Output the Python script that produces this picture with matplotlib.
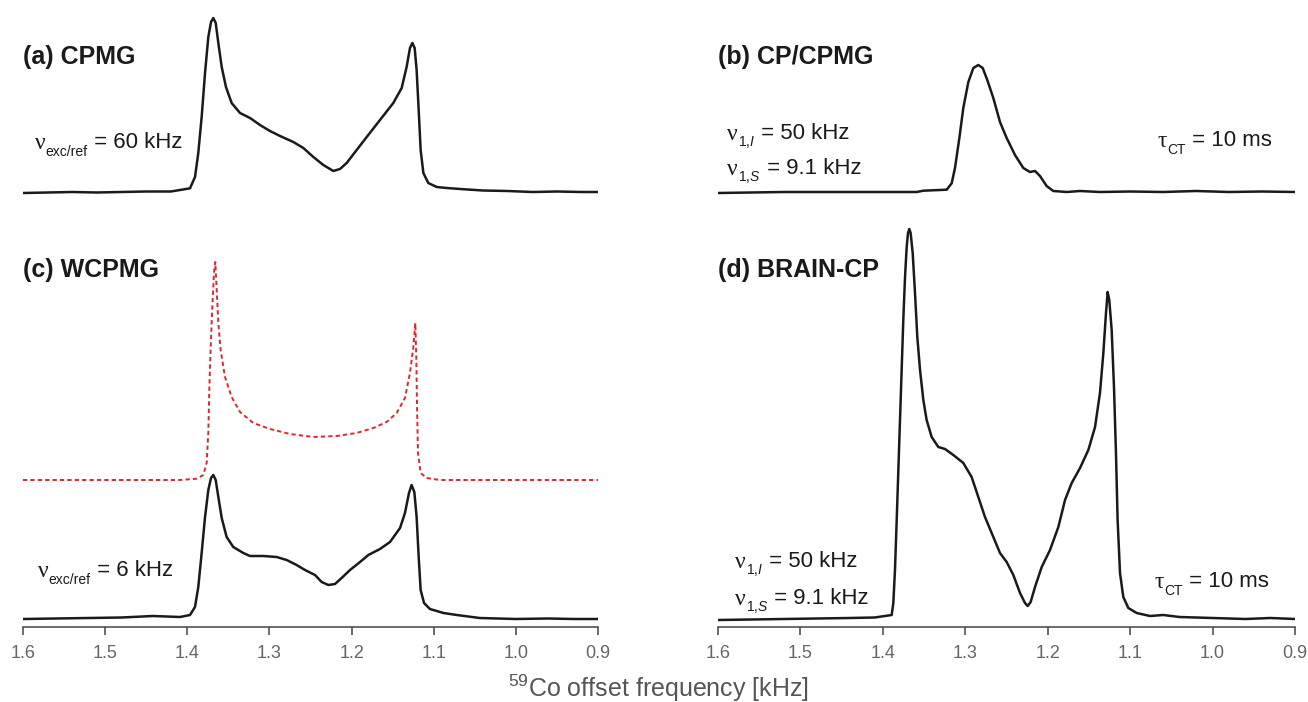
import numpy as np
import matplotlib
matplotlib.use("Agg")
import matplotlib.pyplot as plt

plt.rcParams['font.family'] = ['Liberation Sans', 'DejaVu Sans']
plt.rcParams['mathtext.fontset'] = 'custom'
plt.rcParams['mathtext.rm'] = 'Liberation Sans'
plt.rcParams['mathtext.it'] = 'Liberation Sans:italic'
plt.rcParams['mathtext.default'] = 'regular'

# (a) CPMG, nu_exc/ref = 60 kHz
fa = [1.600, 1.570, 1.540, 1.510, 1.480, 1.450, 1.420, 1.4089, 1.3967, 1.3906, 1.3866, 1.3825,
      1.3784, 1.3744, 1.3711, 1.3683, 1.3654, 1.3622, 1.3581, 1.3529, 1.3460, 1.3358, 1.3236,
      1.3115, 1.2993, 1.2871, 1.2709, 1.2587, 1.2465, 1.2344, 1.2222, 1.2141, 1.2060, 1.1938,
      1.1816, 1.1654, 1.1492, 1.1390, 1.1330, 1.1289, 1.1260, 1.1232, 1.1208, 1.1183, 1.1159,
      1.1126, 1.1066, 1.0964, 1.0842, 1.0680, 1.040, 1.010, 0.980, 0.950, 0.920, 0.900]
ia = [-1, -0.5, 0, -0.5, 0, 0.5, 0.5, 2, 3.7, 15, 39, 75,
      119, 155, 170, 174, 169, 149, 125, 105, 89, 79, 74,
      67, 61, 56, 50, 44, 35, 27, 21, 23, 29, 42,
      55, 72, 89, 104, 125, 144, 149, 144, 122, 82, 42,
      19, 9, 5, 4, 3, 1.5, 1, 0, 0.5, 0, 0]

# (b) CP/CPMG
fb = [1.600, 1.560, 1.520, 1.480, 1.440, 1.400, 1.3792, 1.3590, 1.3509, 1.3226, 1.3165, 1.3125,
      1.3072, 1.3024, 1.2963, 1.2902, 1.2842, 1.2789, 1.2733, 1.2660, 1.2579, 1.2498, 1.2397,
      1.2296, 1.2215, 1.2154, 1.2094, 1.2013, 1.1932, 1.1770, 1.1608, 1.1366, 1.100, 1.060,
      1.020, 0.980, 0.940, 0.900]
ib = [-1, -0.5, 0, 0, 0, 0, 0, 0, 1.3, 2.3, 8.7, 24,
      54, 84, 110, 124, 127, 124, 112, 94, 70, 54, 37,
      24, 20, 21, 16, 6, 1, 0, 1, 0, 0.5, 0,
      1, 0, 0.5, 0]

# (c) WCPMG, nu_exc/ref = 6 kHz (experiment)
fc = [1.600, 1.560, 1.520, 1.480, 1.442, 1.4089, 1.3967, 1.3906, 1.3866, 1.3825, 1.3784, 1.3744,
      1.3711, 1.3683, 1.3654, 1.3622, 1.3581, 1.3521, 1.3440, 1.3318, 1.3237, 1.3074, 1.2912,
      1.2790, 1.2669, 1.2567, 1.2445, 1.2364, 1.2283, 1.2202, 1.2121, 1.2019, 1.1897, 1.1796,
      1.1654, 1.1532, 1.1410, 1.1350, 1.1301, 1.1269, 1.1236, 1.1208, 1.1183, 1.1159, 1.1118,
      1.1046, 1.0881, 1.0719, 1.044, 1.000, 0.960, 0.930, 0.900]
ic = [0, 0.5, 1, 1.5, 3, 2, 4, 12, 32, 66, 102, 129,
      141, 144, 139, 122, 101, 82, 72, 66, 63, 63, 62,
      59, 54, 49, 44, 37, 34, 35, 41, 49, 57, 64,
      70, 77, 91, 106, 126, 134, 127, 102, 62, 29, 16,
      10, 6, 4, 1, 0, 0.5, 0, 0]

# (c) simulated spectrum
fr = [1.600, 1.500, 1.4089, 1.3886, 1.3805, 1.3764, 1.3744, 1.3732, 1.3715, 1.3695, 1.3675, 1.3659,
      1.3642, 1.3622, 1.3594, 1.3541, 1.3460, 1.3358, 1.3196, 1.2993, 1.2750, 1.2465, 1.2181,
      1.1938, 1.1735, 1.1573, 1.1451, 1.1350, 1.1289, 1.1248, 1.1224, 1.1212, 1.1203, 1.1191,
      1.1159, 1.1086, 1.0924, 1.000, 0.900]
ir = [0, 0, 0, 1.3, 5, 17, 47, 90, 133, 173, 207, 218,
      190, 157, 130, 103, 83, 68, 57, 51, 46, 43, 44,
      47, 52, 58, 67, 82, 107, 133, 157, 123, 73, 27,
      7, 2, 0, 0, 0]

# (d) BRAIN-CP
fd = [1.600, 1.560, 1.520, 1.480, 1.440, 1.410, 1.3893, 1.3873, 1.3853, 1.3832, 1.3812, 1.3792,
      1.3772, 1.3752, 1.3731, 1.3711, 1.3695, 1.3679, 1.3663, 1.3638, 1.3610, 1.3582, 1.3549,
      1.3509, 1.3469, 1.3408, 1.3327, 1.3246, 1.3145, 1.3024, 1.2923, 1.2842, 1.2761, 1.2680,
      1.2579, 1.2498, 1.2417, 1.2336, 1.2276, 1.2243, 1.2207, 1.2154, 1.2073, 1.1972, 1.1871,
      1.1790, 1.1709, 1.1608, 1.1507, 1.1426, 1.1366, 1.1325, 1.1293, 1.1273, 1.1253, 1.1224,
      1.1196, 1.1172, 1.1152, 1.1123, 1.1083, 1.1022, 1.0921, 1.0759, 1.060, 1.040, 1.000,
      0.960, 0.930, 0.900]
idd = [-1, -0.5, 0, 0.5, 1, 1.5, 4, 16, 49, 99, 149, 199,
       249, 299, 342, 372, 386, 390, 386, 366, 326, 282, 249,
       219, 199, 182, 172, 170, 164, 156, 142, 122, 102, 86,
       66, 57, 44, 26, 16, 13, 17, 32, 52, 69, 92,
       119, 136, 151, 169, 192, 226, 266, 306, 327, 319, 289,
       232, 166, 99, 46, 22, 11, 6, 3, 4, 2, 1,
       0, 1, 0]

ticks = [1.6, 1.5, 1.4, 1.3, 1.2, 1.1, 1.0, 0.9]

fig = plt.figure(figsize=(13.08, 7.02), dpi=100)
W, H = 1308, 702
axL = fig.add_axes([23 / W, (H - 627) / H, 575 / W, 627 / H])
axR = fig.add_axes([718 / W, (H - 627) / H, 577 / W, 627 / H])

black = '#1a1a1a'
axL.plot(fa, np.array(ia) + 435, color=black, lw=1.8, solid_joinstyle='round')
axL.plot(fc, np.array(ic) + 8, color=black, lw=1.8, solid_joinstyle='round')
axL.plot(fr, np.array(ir) + 147, color='#e0262c', lw=1.4, ls=(0, (2.2, 1.6)))
axR.plot(fb, np.array(ib) + 435, color=black, lw=1.8, solid_joinstyle='round')
axR.plot(fd, np.array(idd) + 8, color=black, lw=1.8, solid_joinstyle='round')

for ax in (axL, axR):
    ax.set_xlim(1.6, 0.9)
    ax.set_ylim(0, 627)
    for s in ('top', 'left', 'right'):
        ax.spines[s].set_visible(False)
    ax.spines['bottom'].set_color('#444444')
    ax.spines['bottom'].set_linewidth(1.1)
    ax.set_yticks([])
    ax.set_xticks(ticks)
    ax.set_xticklabels([f'{t:.1f}' for t in ticks])
    ax.tick_params(axis='x', direction='out', length=6, width=1.1, color='#444444',
                   labelsize=13, labelcolor='#666666', pad=7)
    ax.patch.set_alpha(0)


def param(ax, x, y, sym, sub, rest):
    # greek symbol, small subscript, then the rest of the line
    t = ax.text(x, y, sym, family='Liberation Serif', fontsize=17, color=black, va='bottom')
    s = ax.annotate(sub, xy=(1, 0), xycoords=t, xytext=(0.3, -3.5), textcoords='offset points',
                    fontsize=10, color=black, va='bottom')
    ax.annotate(rest, xy=(1, 0), xycoords=(s, t), xytext=(0, 0.6), textcoords='offset points',
                fontsize=16, color=black, va='bottom')


bkw = dict(fontsize=18, color=black, va='center', fontweight='bold')

# left column
axL.text(1.6, 627 - 57, '(a) CPMG', **bkw)
param(axL, 1.586, 627 - 154, 'ν', 'exc/ref', ' = 60 kHz')
axL.text(1.6, 627 - 270, '(c) WCPMG', **bkw)
param(axL, 1.582, 627 - 582, 'ν', 'exc/ref', ' = 6 kHz')

# right column
axR.text(1.6, 627 - 57, '(b) CP/CPMG', **bkw)
param(axR, 1.589, 627 - 145, 'ν', r'1,$\mathit{I}$', ' = 50 kHz')
param(axR, 1.589, 627 - 180, 'ν', r'1,$\mathit{S}$', ' = 9.1 kHz')
param(axR, 1.067, 627 - 152, 'τ', 'CT', ' = 10 ms')
axR.text(1.6, 627 - 270, '(d) BRAIN-CP', **bkw)
param(axR, 1.580, 627 - 573, 'ν', r'1,$\mathit{I}$', ' = 50 kHz')
param(axR, 1.580, 627 - 610, 'ν', r'1,$\mathit{S}$', ' = 9.1 kHz')
param(axR, 1.070, 627 - 593, 'τ', 'CT', ' = 10 ms')

fig.text(658 / W, (H - 688) / H, r'$^{59}$Co offset frequency [kHz]', ha='center', va='center',
         fontsize=18, color='#555555')

fig.savefig('out.png', dpi=100)
